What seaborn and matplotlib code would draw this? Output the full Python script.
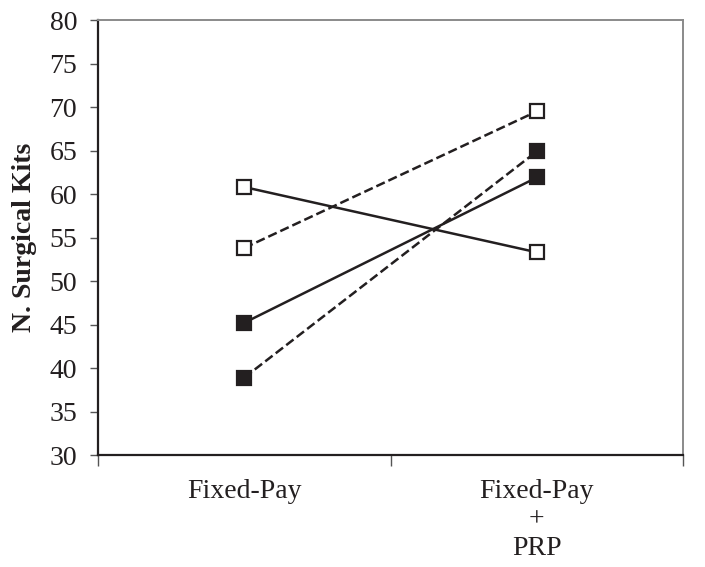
import matplotlib
matplotlib.use("Agg")
import matplotlib.pyplot as plt
import pandas as pd
import seaborn as sns

conditions = ["Fixed-Pay", "Fixed-Pay\n+\nPRP"]
series_names = ["A", "B", "C", "D"]
kits_a = [60.8, 53.3]   # solid, open squares
kits_b = [53.8, 69.5]   # dashed, open squares
kits_c = [45.2, 61.9]   # solid, filled squares
kits_d = [38.9, 64.9]   # dashed, filled squares

rows = []
for name, vals in zip(series_names, [kits_a, kits_b, kits_c, kits_d]):
    for i, v in enumerate(vals):
        rows.append({"series": name, "pos": i, "kits": v})
df = pd.DataFrame(rows)

sns.set_style("white")
plt.rcParams["font.family"] = ["Liberation Serif", "DejaVu Serif"]

ink = "#231f20"
styles = {
    "A": ("-", "white"),
    "B": ("--", "white"),
    "C": ("-", ink),
    "D": ("--", ink),
}

fig = plt.figure(figsize=(7.05, 5.67), dpi=100)
ax = fig.add_axes([0.139, 0.1975, 0.830, 0.7672])

for name in series_names:
    ls, fc = styles[name]
    sns.lineplot(data=df[df["series"] == name], x="pos", y="kits", ax=ax,
                 color=ink, linestyle=ls, linewidth=1.8,
                 marker="s", markersize=10, markerfacecolor=fc,
                 markeredgecolor=ink, markeredgewidth=1.6,
                 dashes=False if ls == "-" else (4, 2.3), legend=False)

ax.set_xlim(-0.5, 1.5)
ax.set_ylim(30, 80)
ax.set_yticks(range(30, 81, 5))
ax.tick_params(axis="y", labelsize=20, length=6, width=1, color="#555555",
               direction="out", left=True, pad=9, labelcolor=ink)
ax.set_xticks([0, 1])
ax.set_xticklabels(conditions, fontsize=20, color=ink, linespacing=1.2)
ax.set_xticks([-0.5, 0.5, 1.5], minor=True)
ax.tick_params(axis="x", which="major", length=0, pad=17)
ax.tick_params(axis="x", which="minor", length=8, width=1, color="#555555",
               direction="out", bottom=True)
ax.set_xlabel("")
ax.set_ylabel("N. Surgical Kits", fontsize=20, fontweight="bold", color=ink,
              labelpad=9)

for side in ["left", "bottom"]:
    ax.spines[side].set_color(ink)
    ax.spines[side].set_linewidth(1.6)
for side in ["top", "right"]:
    ax.spines[side].set_color("#8a8a8a")
    ax.spines[side].set_linewidth(1.4)

fig.savefig("out.png", dpi=100)
